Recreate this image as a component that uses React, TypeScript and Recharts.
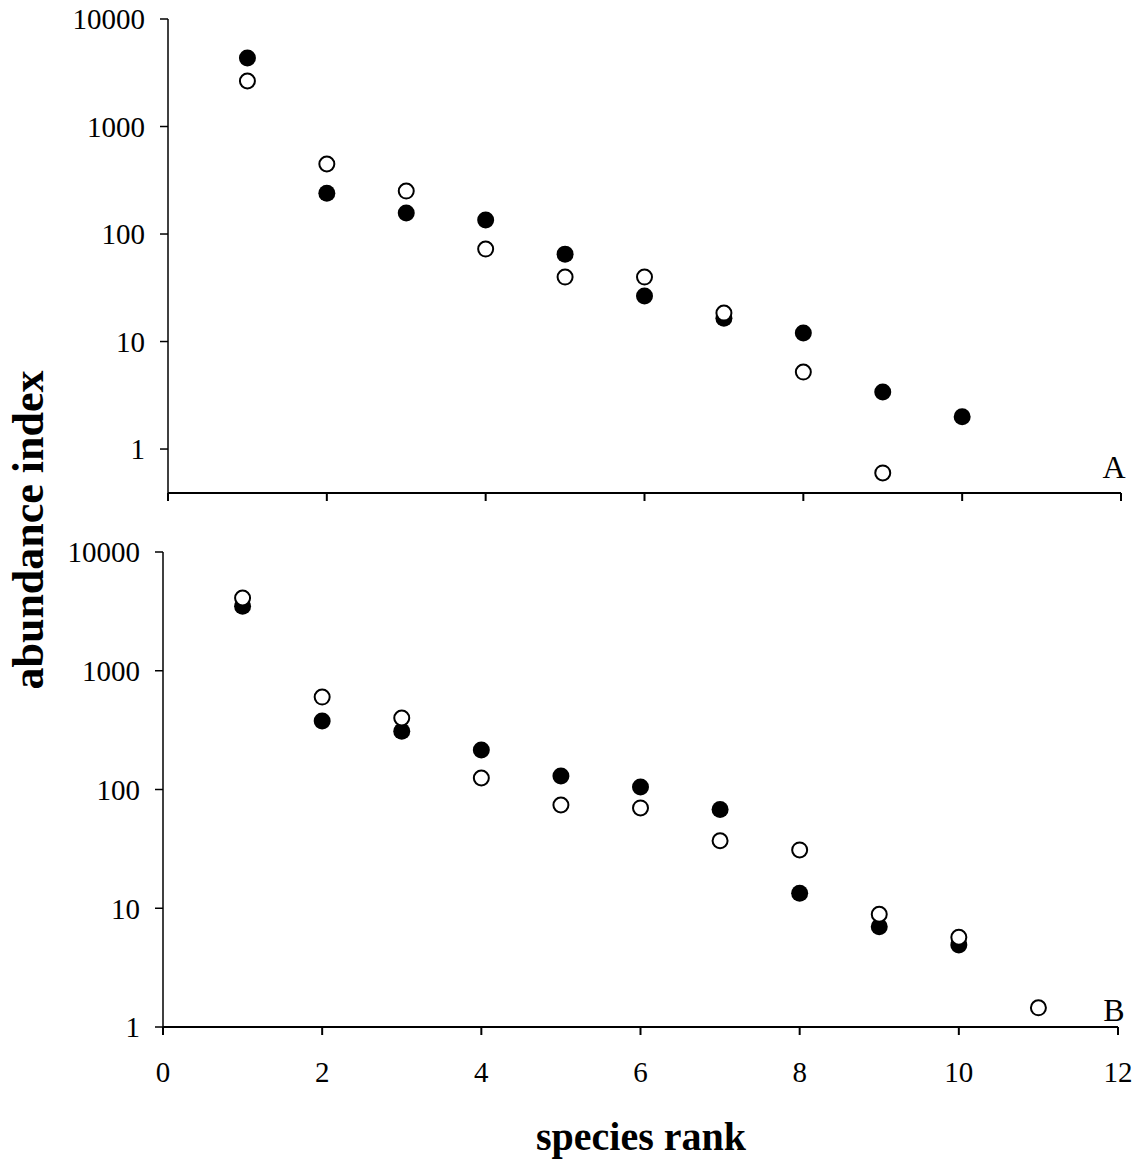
import React from 'react';
import { ScatterChart, Scatter, XAxis, YAxis } from 'recharts';

// species rank on x, abundance index (log) on y
const ranksA = [1, 2, 3, 4, 5, 6, 7, 8, 9, 10];
const filledA = [4340, 240, 157, 135, 65, 26.5, 16.5, 12, 3.4, 2.0];
const openRanksA = [1, 2, 3, 4, 5, 6, 7, 8, 9];
const openA = [2650, 448, 251, 72.5, 39.8, 39.8, 18.4, 5.2, 0.6];

const ranksB = [1, 2, 3, 4, 5, 6, 7, 8, 9, 10];
const filledB = [3500, 378, 310, 215, 130, 105, 68, 13.4, 7.0, 4.9];
const openRanksB = [1, 2, 3, 4, 5, 6, 7, 8, 9, 10, 11];
const openB = [4100, 600, 400, 125, 74, 70, 37, 31, 8.9, 5.7, 1.45];

const xTicks = [0, 2, 4, 6, 8, 10, 12];
const yTicks = [1, 10, 100, 1000, 10000];

const font = '"Liberation Serif", "Times New Roman", serif';
const tickStyle = { fill: '#000', fontSize: 29, fontFamily: font };

const toPoints = (xs: number[], ys: number[]) => xs.map((x, i) => ({ rank: x, value: ys[i] }));

const FilledDot = (p: any) => <circle cx={p.cx} cy={p.cy} r={8.5} fill="#000" />;
const OpenDot = (p: any) => <circle cx={p.cx} cy={p.cy} r={7.5} fill="#fff" stroke="#000" strokeWidth={2} />;
const NoTick = () => <g />;

interface PanelProps {
  filled: { rank: number; value: number }[];
  open: { rank: number; value: number }[];
  yMin: number;
  showXLabels: boolean;
  height: number;
  margin: { top: number; right: number; left: number; bottom: number };
  xAxisHeight: number;
}

const Panel: React.FC<PanelProps> = ({ filled, open, yMin, showXLabels, height, margin, xAxisHeight }) => (
  <ScatterChart width={1145} height={height} margin={margin}>
    <XAxis
      type="number"
      dataKey="rank"
      domain={[0, 12]}
      ticks={xTicks}
      interval={0}
      stroke="#000"
      strokeWidth={2}
      tickSize={8}
      tickMargin={26}
      height={xAxisHeight}
      tick={showXLabels ? tickStyle : NoTick}
    />
    <YAxis
      type="number"
      dataKey="value"
      scale="log"
      domain={[yMin, 10000]}
      allowDataOverflow
      ticks={yTicks}
      interval={0}
      width={60}
      stroke="#000"
      strokeWidth={1.5}
      tickSize={8}
      tickMargin={15}
      tick={tickStyle}
    />
    <Scatter data={filled} shape={FilledDot} isAnimationActive={false} />
    <Scatter data={open} shape={OpenDot} isAnimationActive={false} />
  </ScatterChart>
);

export default function App() {
  return (
    <div style={{ position: 'absolute', left: 0, top: 0, width: 1145, height: 1164, background: '#fff' }}>
      <div style={{ position: 'absolute', left: 0, top: 0 }}>
        <Panel
          filled={toPoints(ranksA, filledA)}
          open={toPoints(openRanksA, openA)}
          yMin={0.39}
          showXLabels={false}
          height={520}
          margin={{ top: 19, right: 24, left: 108, bottom: 7 }}
          xAxisHeight={20}
        />
      </div>
      <div style={{ position: 'absolute', left: 0, top: 500 }}>
        <Panel
          filled={toPoints(ranksB, filledB)}
          open={toPoints(openRanksB, openB)}
          yMin={1}
          showXLabels={true}
          height={610}
          margin={{ top: 52, right: 27, left: 103, bottom: 30 }}
          xAxisHeight={53}
        />
      </div>
      <svg width={1145} height={1164} style={{ position: 'absolute', left: 0, top: 0, pointerEvents: 'none' }}>
        <text x={1114} y={478} textAnchor="middle" fontFamily={font} fontSize={32}>A</text>
        <text x={1114} y={1021} textAnchor="middle" fontFamily={font} fontSize={32}>B</text>
        <text
          x={0}
          y={0}
          transform="translate(43, 530) rotate(-90)"
          textAnchor="middle"
          fontFamily={font}
          fontSize={44}
          fontWeight="bold"
        >
          abundance index
        </text>
        <text x={641} y={1150} textAnchor="middle" fontFamily={font} fontSize={40} fontWeight="bold">
          species rank
        </text>
      </svg>
    </div>
  );
}
